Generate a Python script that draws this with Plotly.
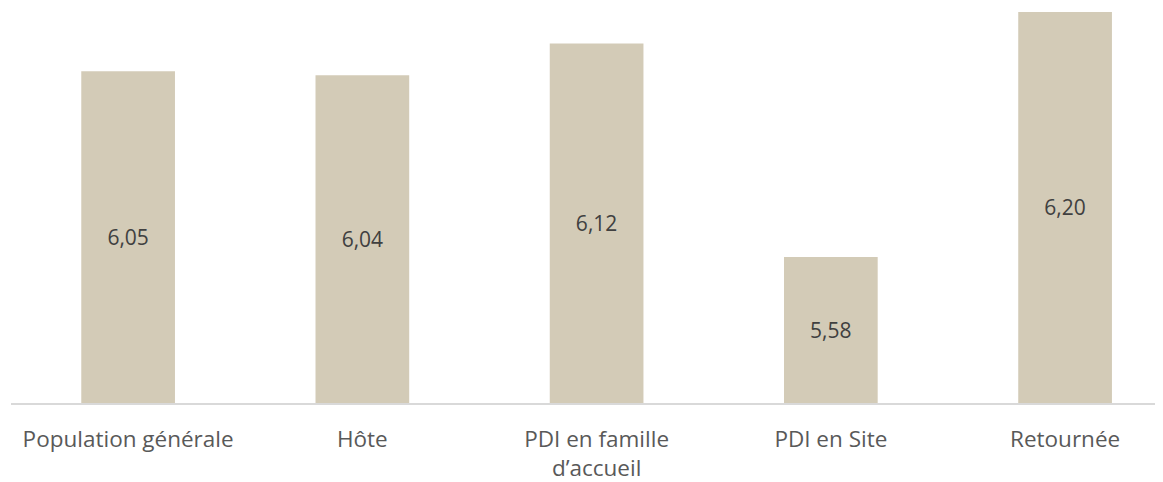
import plotly.graph_objects as go

categories = ["Population générale", "Hôte", "PDI en famille<br>d’accueil", "PDI en Site", "Retournée"]
values = [6.05, 6.04, 6.12, 5.58, 6.20]
labels = ["6,05", "6,04", "6,12", "5,58", "6,20"]

y_floor = 5.211
x = list(range(len(categories)))

fig = go.Figure()
fig.add_trace(go.Bar(
    x=x,
    y=[v - y_floor for v in values],
    base=y_floor,
    width=0.40,
    marker=dict(color="#D3CBB7", line=dict(width=0)),
    text=labels,
    textposition="inside",
    insidetextanchor="middle",
    textfont=dict(family="Open Sans", size=21, color="#404040"),
    hoverinfo="skip",
))

# page body adds 8px around the div, so size the figure to fit the window
fig.update_layout(
    width=1155, height=474,
    margin=dict(l=3, r=0, t=0, b=79),
    plot_bgcolor="white", paper_bgcolor="white",
    showlegend=False,
    font=dict(family="Open Sans", size=21, color="#595959"),
    xaxis=dict(
        tickvals=x, ticktext=categories,
        range=[-0.5, 4.418],
        showline=True, linecolor="#D9D9D9", linewidth=1.5,
        ticks="", showgrid=False, zeroline=False,
        ticklabelstandoff=15,
        tickfont=dict(size=22.5, color="#595959"),
    ),
    yaxis=dict(
        range=[y_floor, 6.21],
        visible=False, showgrid=False, zeroline=False,
    ),
)

fig.write_html("out.html")
